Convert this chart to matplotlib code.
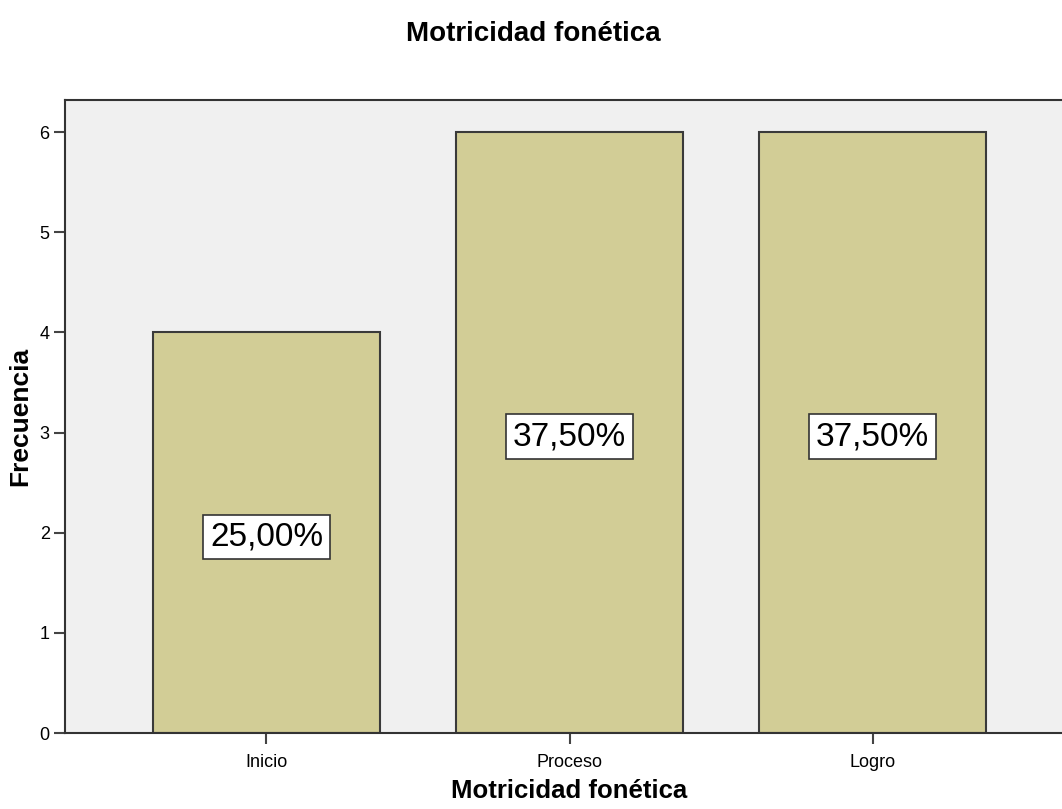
import matplotlib
matplotlib.use("Agg")
import matplotlib.pyplot as plt

categories = ["Inicio", "Proceso", "Logro"]
frequencies = [4, 6, 6]
percent_labels = ["25,00%", "37,50%", "37,50%"]
y_ticks = [0, 1, 2, 3, 4, 5, 6]

plt.rcParams["font.family"] = ["Liberation Sans", "DejaVu Sans"]

W, H = 1062, 809
fig = plt.figure(figsize=(W / 100, H / 100), dpi=100)
fig.patch.set_facecolor("white")

# axes box in pixel terms; right edge runs past the figure border
left, right, top, bottom = 65, 1074, 100, 733
ax = fig.add_axes([left / W, 1 - bottom / H, (right - left) / W, (bottom - top) / H])
ax.set_facecolor("#f0f0f0")

x = list(range(len(categories)))
ax.bar(x, frequencies, width=0.75, color="#d2cd96", edgecolor="#3a3a3a", linewidth=1.5, zorder=2)

for xi, v, lab in zip(x, frequencies, percent_labels):
    ax.text(xi, v / 2 - 0.04, lab, ha="center", va="center", fontsize=24, color="black",
            bbox=dict(boxstyle="square,pad=0.2", facecolor="white", edgecolor="#333333", linewidth=1.2),
            zorder=3)

ax.set_xlim(-0.665, 2.665)
ax.set_ylim(0, 6.32)
ax.set_xticks(x)
ax.set_xticklabels(categories, fontsize=13)
ax.set_yticks(y_ticks)
ax.set_yticklabels([str(t) for t in y_ticks], fontsize=13)
ax.tick_params(axis="x", direction="out", length=8, width=1.5, color="#444444", pad=7)
ax.tick_params(axis="y", direction="out", length=8, width=1.5, color="#444444", pad=3)

for side in ["left", "top", "bottom", "right"]:
    ax.spines[side].set_color("#333333")
    ax.spines[side].set_linewidth(1.5)

ax.set_xlabel("Motricidad fonética", fontsize=18.5, fontweight="bold", labelpad=6)
ax.set_ylabel("Frecuencia", fontsize=19, fontweight="bold", labelpad=5)

fig.text(533 / W, 1 - 34 / H, "Motricidad fonética", ha="center", va="center",
         fontsize=20, fontweight="bold")

fig.savefig("out.png", dpi=100)
